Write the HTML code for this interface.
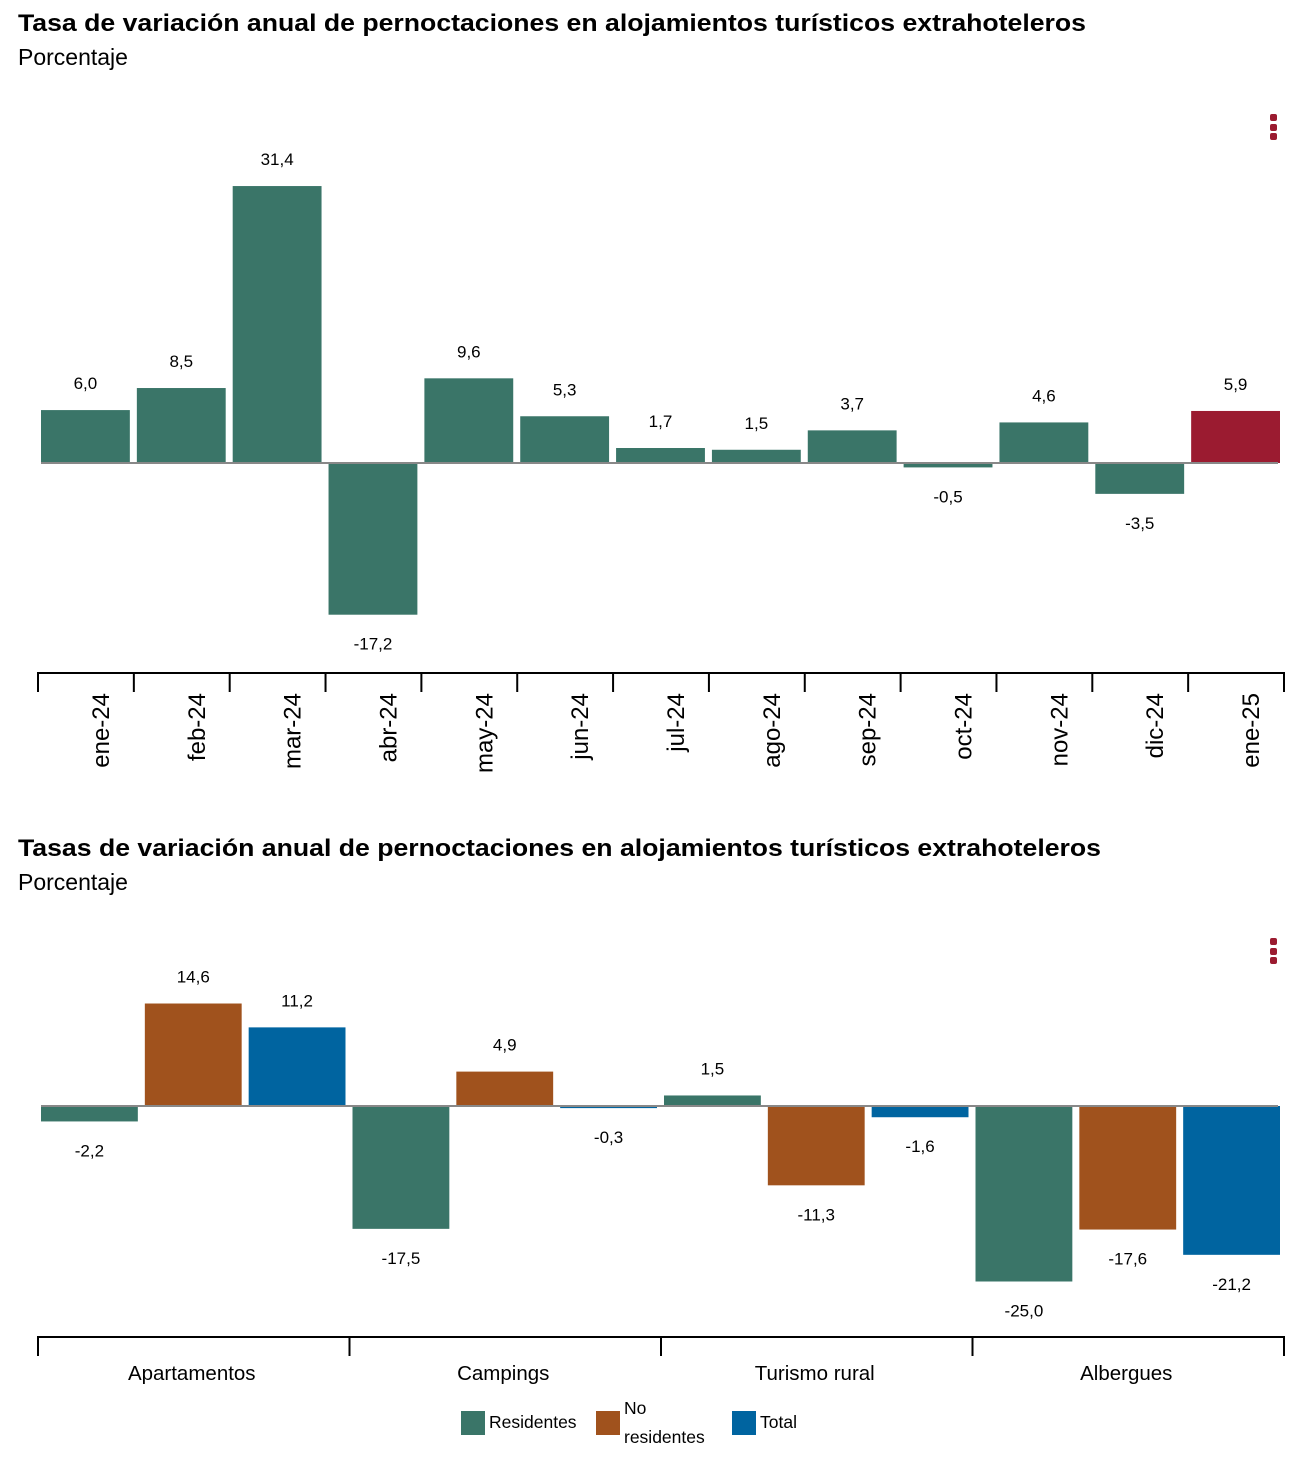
<!DOCTYPE html>
<html><head><meta charset="utf-8"><style>
body{margin:0;background:#fff;}
svg{display:block;font-family:"Liberation Sans",Arial,sans-serif;}
</style></head><body>
<svg id="c" width="1314" height="1478">
<text x="18" y="31" font-size="24.5" font-weight="bold" textLength="1068" lengthAdjust="spacingAndGlyphs">Tasa de variación anual de pernoctaciones en alojamientos turísticos extrahoteleros</text>
<text x="18" y="65" font-size="23">Porcentaje</text>
<g fill="#9b1b30"><rect x="1270" y="114" width="7" height="7" rx="2"/><rect x="1270" y="124" width="7" height="7" rx="2"/><rect x="1270" y="133" width="7" height="7" rx="2"/></g>
<text x="18" y="856" font-size="24.5" font-weight="bold" textLength="1083" lengthAdjust="spacingAndGlyphs">Tasas de variación anual de pernoctaciones en alojamientos turísticos extrahoteleros</text>
<text x="18" y="890" font-size="23">Porcentaje</text>
<g fill="#9b1b30"><rect x="1270" y="938" width="7" height="7" rx="2"/><rect x="1270" y="948" width="7" height="7" rx="2"/><rect x="1270" y="957" width="7" height="7" rx="2"/></g>
<g id="g1"></g><g id="g2"></g>
<g font-size="17.5">
<g><rect x="461" y="1411" width="24" height="24" fill="#3a7568"/><text x="489" y="1428">Residentes</text></g>
<g><rect x="596" y="1411" width="24" height="24" fill="#a0521d"/><text x="624" y="1414">No</text><text x="624" y="1443">residentes</text></g>
<g><rect x="732" y="1411" width="24" height="24" fill="#0064a0"/><text x="760" y="1428">Total</text></g>
</g>
</svg>
<script>
const months=["ene-24","feb-24","mar-24","abr-24","may-24","jun-24","jul-24","ago-24","sep-24","oct-24","nov-24","dic-24","ene-25"];
const monthValues=[6.0,8.5,31.4,-17.2,9.6,5.3,1.7,1.5,3.7,-0.5,4.6,-3.5,5.9];
const types=["Apartamentos","Campings","Turismo rural","Albergues"];
const residentes=[-2.2,-17.5,1.5,-25.0];
const noResidentes=[14.6,4.9,-11.3,-17.6];
const total=[11.2,-0.3,-1.6,-21.2];
const NS="http://www.w3.org/2000/svg";
function mk(p,t,a){const e=document.createElementNS(NS,t);for(const k in a)e.setAttribute(k,a[k]);p.appendChild(e);return e;}
const fmt=v=>v.toFixed(1).replace('.',',');
// chart 1
const g1=document.getElementById('g1');
const x0=38,x1=1284,zero1=463,s1=8.82;
const y1=v=>zero1-v*s1;
const cw=(x1-x0)/months.length;
months.forEach((m,i)=>{
  const v=monthValues[i];const bx=x0+i*cw+3;
  const r=mk(g1,'rect',{x:bx,y:Math.min(y1(v),zero1),width:cw-7,height:Math.abs(y1(v)-zero1),fill:i==months.length-1?'#9b1b30':'#3a7568'});
  
  
  const t=mk(g1,'text',{x:bx+(cw-7)/2,y:v>=0?y1(v)-21:y1(v)+35,'font-size':17,'text-anchor':'middle'});
  t.textContent=fmt(v);
  
  
  const lx=x0+i*cw+cw/2+23;
  const l=mk(g1,'text',{x:0,y:0,'font-size':24,'text-anchor':'end',transform:`translate(${lx},693) rotate(-90)`});
  l.textContent=m;
  
  
});
mk(g1,'line',{x1:41,x2:1278,y1:zero1,y2:zero1,stroke:'#888','stroke-width':2});
const ax1=mk(g1,'path',{d:`M${x0} 692V673H${x1}V692`+months.map((m,i)=>`M${x0+i*cw} 673V692`).join(''),stroke:'#000','stroke-width':2,fill:'none'});


// chart 2
const g2=document.getElementById('g2');
const zero2=1106,s2=7.02;
const y2=v=>zero2-v*s2;
const gw=(x1-x0)/types.length, sw=gw/3;
const series=[[residentes,'#3a7568','residentes'],[noResidentes,'#a0521d','no-residentes'],[total,'#0064a0','total']];
types.forEach((tp,i)=>{
  series.forEach(([arr,col,nm],j)=>{
    const v=arr[i];const bx=x0+i*gw+j*sw+3;const bw=sw-7;
    const r=mk(g2,'rect',{x:bx,y:Math.min(y2(v),zero2),width:bw,height:Math.max(Math.abs(y2(v)-zero2),2),fill:col});
    
    
    const t=mk(g2,'text',{x:bx+bw/2,y:v>=0?y2(v)-21:y2(v)+35,'font-size':17,'text-anchor':'middle'});
    t.textContent=fmt(v);
    
    
  });
  const l=mk(g2,'text',{x:x0+i*gw+gw/2-2,y:1380,'font-size':20.5,'text-anchor':'middle'});
  l.textContent=tp;
  
  
});
mk(g2,'line',{x1:41,x2:1278,y1:zero2,y2:zero2,stroke:'#888','stroke-width':2});
const ax2=mk(g2,'path',{d:`M${x0} 1356V1337H${x1}V1356`+types.map((m,i)=>`M${x0+i*gw} 1337V1356`).join(''),stroke:'#000','stroke-width':2,fill:'none'});


</script>
</body></html>
